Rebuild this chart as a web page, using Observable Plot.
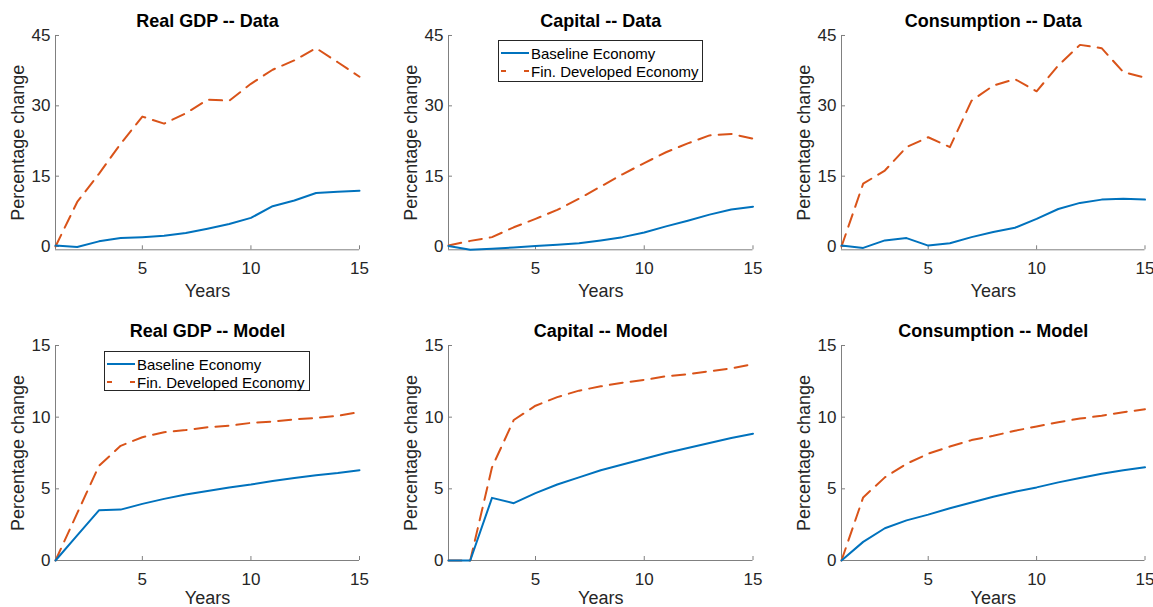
<!DOCTYPE html>
<html>
<head>
<meta charset="utf-8">
<script src="https://cdn.jsdelivr.net/npm/d3@7"></script>
<script src="https://cdn.jsdelivr.net/npm/@observablehq/plot@0.6"></script>
<style>
  html, body { margin: 0; padding: 0; background: #fff; overflow: hidden; }
  #wrap { position: relative; width: 1153px; height: 607px; overflow: hidden; font-family: "Liberation Sans", Arial, sans-serif; }
  .cell { position: absolute; }
  .cell svg { max-width: none !important; display: block; }
  .legend { position: absolute; background: #fff; border: 1px solid #262626; box-sizing: border-box; font-size: 15px; color: #000; }
  .legend .row { position: absolute; left: 0; height: 18px; display: flex; align-items: center; white-space: nowrap; }
</style>
</head>
<body>
<div id="wrap"></div>
<script>
// ---------- data ----------
const years = [1, 2, 3, 4, 5, 6, 7, 8, 9, 10, 11, 12, 13, 14, 15];
const xTicks = [5, 10, 15];
const yTicksData = [0, 15, 30, 45];
const yTicksModel = [0, 5, 10, 15];
const seriesNames = ["Baseline Economy", "Fin. Developed Economy"];
const titles = ["Real GDP -- Data", "Capital -- Data", "Consumption -- Data",
                "Real GDP -- Model", "Capital -- Model", "Consumption -- Model"];

const gdpDataBase = [0.2, -0.1, 1.1, 1.8, 2.0, 2.3, 2.9, 3.8, 4.8, 6.1, 8.6, 9.8, 11.4, 11.7, 11.9];
const gdpDataFin  = [0.0, 9.5, 15.5, 21.9, 27.7, 26.2, 28.4, 31.3, 31.1, 34.7, 37.7, 39.7, 42.3, 39.3, 36.2];
const capDataBase = [0.1, -0.7, -0.5, -0.2, 0.1, 0.4, 0.7, 1.3, 2.0, 3.0, 4.3, 5.5, 6.8, 7.9, 8.5];
const capDataFin  = [0.2, 1.2, 2.0, 4.1, 5.9, 7.8, 10.2, 12.8, 15.4, 17.8, 20.1, 22.0, 23.7, 24.0, 23.0];
const conDataBase = [0.2, -0.3, 1.3, 1.8, 0.2, 0.7, 2.0, 3.1, 4.0, 5.9, 8.0, 9.3, 10.0, 10.2, 10.0];
const conDataFin  = [0.0, 13.4, 16.2, 21.2, 23.3, 21.2, 31.1, 34.3, 35.7, 33.1, 38.6, 43.0, 42.3, 37.2, 36.0];

const gdpModelBase = [0.0, 1.75, 3.5, 3.55, 3.95, 4.3, 4.6, 4.85, 5.1, 5.3, 5.55, 5.75, 5.95, 6.1, 6.3];
const gdpModelFin  = [0.0, 3.3, 6.6, 8.0, 8.6, 8.95, 9.1, 9.3, 9.4, 9.6, 9.7, 9.85, 9.95, 10.1, 10.35];
const capModelBase = [0.0, 0.0, 4.37, 4.0, 4.7, 5.3, 5.8, 6.3, 6.7, 7.1, 7.5, 7.85, 8.2, 8.55, 8.85];
const capModelFin  = [0.0, 0.0, 6.5, 9.8, 10.8, 11.4, 11.85, 12.15, 12.4, 12.6, 12.85, 13.0, 13.2, 13.4, 13.7];
const conModelBase = [0.0, 1.3, 2.25, 2.8, 3.2, 3.65, 4.05, 4.45, 4.8, 5.1, 5.45, 5.75, 6.05, 6.3, 6.5];
const conModelFin  = [0.0, 4.4, 5.8, 6.75, 7.45, 7.95, 8.4, 8.7, 9.05, 9.35, 9.65, 9.9, 10.1, 10.35, 10.55];

// ---------- styling / layout ----------
const BLUE = "#0072BD", ORANGE = "#D95319", AXIS = "#808080", TEXT = "#262626";
const FONT = "'Liberation Sans', Arial, Helvetica, sans-serif";
const cols = [[55, 359], [447.5, 752], [841, 1144.5]];
const rows = [[35, 249.3], [345, 560]];
const ML = 55, MR = 8, MT = 35;
const yearsLabelDy = [41.9, 38.2];

const panels = [
  {title: titles[0], base: gdpDataBase, fin: gdpDataFin, yDomain: [-0.7, 45], yTicks: yTicksData, c: 0, r: 0},
  {title: titles[1], base: capDataBase, fin: capDataFin, yDomain: [-0.7, 45], yTicks: yTicksData, c: 1, r: 0, legend: true},
  {title: titles[2], base: conDataBase, fin: conDataFin, yDomain: [-0.7, 45], yTicks: yTicksData, c: 2, r: 0},
  {title: titles[3], base: gdpModelBase, fin: gdpModelFin, yDomain: [0, 15], yTicks: yTicksModel, c: 0, r: 1, legend: true},
  {title: titles[4], base: capModelBase, fin: capModelFin, yDomain: [0, 15], yTicks: yTicksModel, c: 1, r: 1},
  {title: titles[5], base: conModelBase, fin: conModelFin, yDomain: [0, 15], yTicks: yTicksModel, c: 2, r: 1}
];
const legendBoxes = {"1": {left: 498, top: 40, width: 205, height: 42}, "3": {left: 104, top: 351, width: 206, height: 40}};

const wrap = document.getElementById("wrap");

panels.forEach((p, idx) => {
  const [L, R] = cols[p.c];
  const [T, B] = rows[p.r];
  const MB = p.r === 0 ? 58 : 47;
  const width = ML + (R - L) + MR;
  const height = MT + (B - T) + MB;
  const xDomain = [years[0], years[years.length - 1]];
  const xUnit = (R - L) / (xDomain[1] - xDomain[0]);
  const yUnit = (B - T) / (p.yDomain[1] - p.yDomain[0]);
  const tickLen = 4;
  const baseRows = years.map((y, i) => ({year: y, value: p.base[i]}));
  const finRows = years.map((y, i) => ({year: y, value: p.fin[i]}));

  const chart = Plot.plot({
    width, height,
    marginLeft: ML, marginRight: MR, marginTop: MT, marginBottom: MB,
    style: {fontFamily: FONT, fontSize: "17px", color: TEXT, background: "transparent", overflow: "visible", maxWidth: "none"},
    x: {domain: xDomain, ticks: xTicks, tickSize: 0, tickPadding: 12, label: null},
    y: {domain: p.yDomain, ticks: p.yTicks, tickSize: 0, tickPadding: 5, label: null},
    marks: [
      Plot.ruleY([p.yDomain[0]], {stroke: AXIS, strokeWidth: 1}),
      Plot.ruleX([xDomain[0]], {stroke: AXIS, strokeWidth: 1}),
      Plot.ruleY(p.yTicks, {y: d => d, x1: xDomain[0], x2: xDomain[0] + tickLen / xUnit, stroke: AXIS}),
      Plot.ruleX(xTicks, {x: d => d, y1: p.yDomain[0], y2: p.yDomain[0] + tickLen / yUnit, stroke: AXIS}),
      Plot.line(finRows, {x: "year", y: "value", stroke: ORANGE, strokeWidth: 2, strokeDasharray: "13,8"}),
      Plot.line(baseRows, {x: "year", y: "value", stroke: BLUE, strokeWidth: 2}),
      Plot.text([p.title], {text: d => d, frameAnchor: "top", dy: -14, fontSize: 18, fontWeight: "bold", fill: "#000", lineAnchor: "middle"}),
      Plot.text(["Percentage change"], {text: d => d, frameAnchor: "left", dx: -37.5, rotate: -90, fontSize: 18, textAnchor: "middle", lineAnchor: "middle", fill: TEXT}),
      Plot.text(["Years"], {text: d => d, frameAnchor: "bottom", dy: yearsLabelDy[p.r], fontSize: 18, lineAnchor: "middle", fill: TEXT})
    ]
  });
  const cell = document.createElement("div");
  cell.className = "cell";
  cell.style.left = (L - ML) + "px";
  cell.style.top = (T - MT) + "px";
  cell.style.width = width + "px";
  cell.appendChild(chart);
  wrap.appendChild(cell);

  if (p.legend) {
    const box = legendBoxes[String(idx)];
    const lg = document.createElement("div");
    lg.className = "legend";
    lg.style.left = box.left + "px";
    lg.style.top = box.top + "px";
    lg.style.width = box.width + "px";
    lg.style.height = box.height + "px";
    const samples = [
      {name: seriesNames[0], color: BLUE, dash: null},
      {name: seriesNames[1], color: ORANGE, dash: "5,18"}
    ];
    samples.forEach((s, k) => {
      const row = document.createElement("div");
      row.className = "row";
      row.style.top = (k === 0 ? 3 : 21) + "px";
      row.innerHTML = `<svg width="32" height="18" style="display:block"><line x1="2" x2="30" y1="9" y2="9" stroke="${s.color}" stroke-width="2" ${s.dash ? `stroke-dasharray="${s.dash}"` : ""}/></svg><span>${s.name}</span>`;
      lg.appendChild(row);
    });
    wrap.appendChild(lg);
  }
});
</script>
</body>
</html>
